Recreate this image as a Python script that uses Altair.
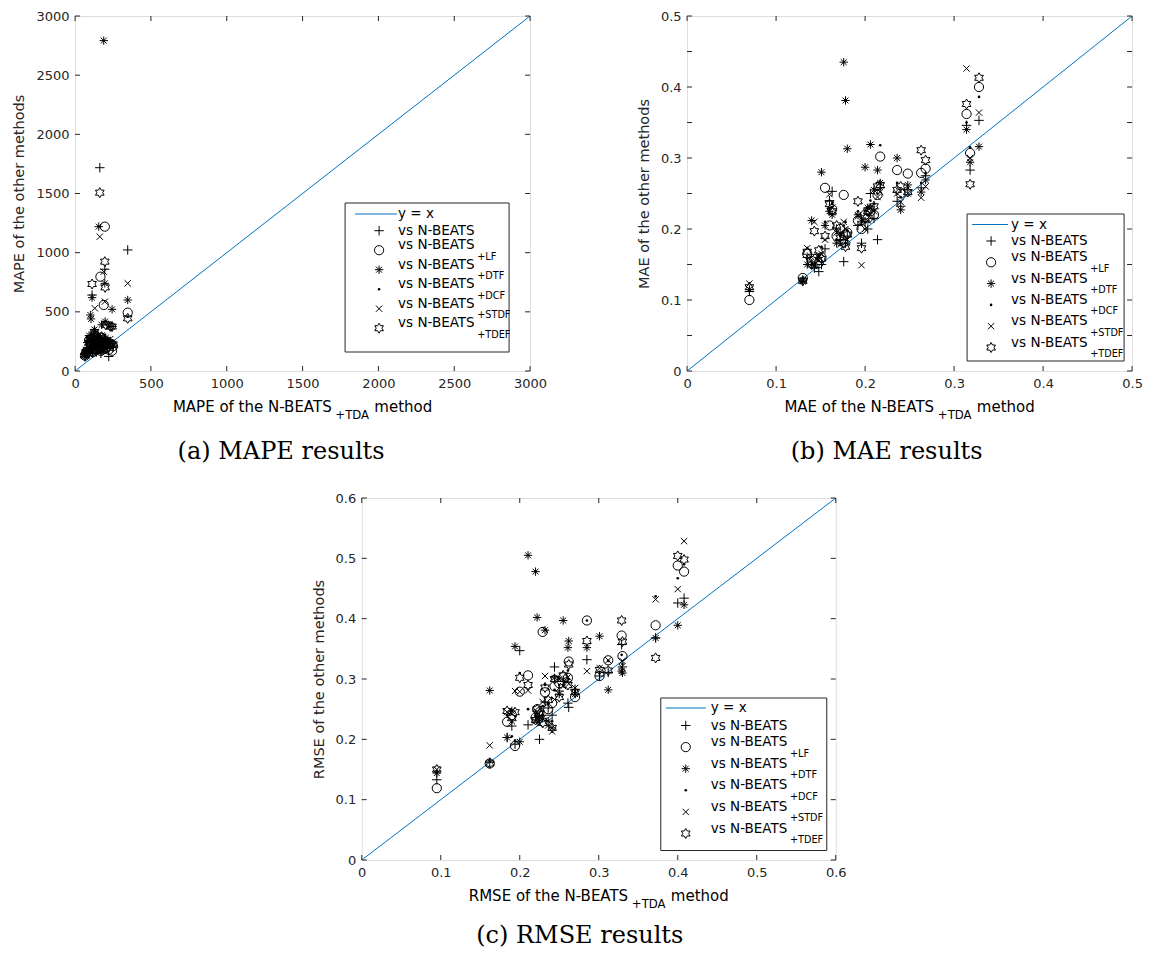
import math
import altair as alt
import pandas as pd

AXIS_COLOR = "#262626"
LINE_COLOR = "#0072BD"
SANS = "DejaVu Sans"
SERIF = "DejaVu Serif"

legend_main = "vs N-BEATS"
legend_subs = ["", "+LF", "+DTF", "+DCF", "+STDF", "+TDEF"]

# ---------------- (a) MAPE ----------------
mape_x = [65, 72, 80, 92, 101, 105, 112, 117, 122, 128, 130, 135, 140, 148, 156,
          163, 167, 170, 175, 180, 189, 196, 198, 202, 210, 222, 232, 244, 250, 347]
mape_nbeats = [120, 140, 150, 180, 200, 210, 642, 150, 210, 300, 250, 230, 160, 270, 180,
               1718, 220, 150, 260, 200, 240, 860, 250, 220, 190, 123, 250, 376, 200, 1023]
mape_lf = [130, 150, 160, 260, 230, 220, 170, 160, 200, 310, 280, 250, 180, 230, 200,
           190, 797, 170, 280, 180, 558, 1220, 220, 190, 200, 180, 230, 171, 210, 493]
mape_dtf = [150, 170, 240, 300, 473, 440, 620, 200, 250, 350, 320, 270, 220, 300, 1220,
            280, 250, 200, 390, 230, 2792, 741, 418, 280, 260, 240, 380, 521, 230, 600]
mape_dcf = [125, 145, 170, 200, 220, 230, 210, 170, 220, 280, 240, 240, 175, 250, 190,
            210, 230, 160, 270, 210, 230, 300, 240, 230, 210, 200, 260, 250, 220, 460]
mape_stdf = [135, 150, 180, 250, 260, 250, 230, 165, 230, 290, 530, 260, 190, 240, 210,
             1135, 240, 175, 300, 220, 839, 586, 400, 260, 230, 220, 270, 240, 215, 741]
mape_tdef = [130, 160, 175, 240, 270, 260, 735, 180, 240, 330, 300, 250, 170, 260, 220,
             1507, 260, 185, 290, 205, 250, 924, 707, 390, 220, 210, 376, 376, 225, 445]
mape_ticks = [0, 500, 1000, 1500, 2000, 2500, 3000]

# ---------------- (b) MAE ----------------
mae_x = [0.070, 0.130, 0.135, 0.140, 0.143, 0.148, 0.151, 0.155, 0.160, 0.163, 0.168,
         0.172, 0.176, 0.178, 0.180, 0.192, 0.196, 0.200, 0.203, 0.206, 0.210, 0.214,
         0.217, 0.236, 0.240, 0.248, 0.263, 0.268, 0.314, 0.318, 0.328]
mae_nbeats = [0.112, 0.128, 0.160, 0.150, 0.145, 0.140, 0.150, 0.172, 0.240, 0.253, 0.200,
              0.185, 0.154, 0.180, 0.190, 0.205, 0.180, 0.210, 0.200, 0.250, 0.215, 0.185,
              0.258, 0.239, 0.232, 0.255, 0.258, 0.275, 0.346, 0.283, 0.353]
mae_lf = [0.100, 0.131, 0.165, 0.155, 0.158, 0.152, 0.160, 0.258, 0.205, 0.228, 0.190,
          0.200, 0.248, 0.192, 0.195, 0.212, 0.200, 0.220, 0.215, 0.225, 0.220, 0.248,
          0.302, 0.283, 0.250, 0.278, 0.279, 0.285, 0.362, 0.307, 0.400]
mae_dtf = [0.115, 0.126, 0.150, 0.212, 0.148, 0.160, 0.280, 0.205, 0.225, 0.220, 0.180,
           0.194, 0.435, 0.381, 0.313, 0.220, 0.210, 0.287, 0.230, 0.319, 0.255, 0.283,
           0.265, 0.300, 0.227, 0.262, 0.252, 0.269, 0.340, 0.294, 0.316]
mae_dcf = [0.113, 0.130, 0.158, 0.152, 0.150, 0.155, 0.175, 0.210, 0.230, 0.236, 0.185,
           0.190, 0.205, 0.210, 0.198, 0.225, 0.215, 0.225, 0.220, 0.240, 0.235, 0.250,
           0.318, 0.265, 0.245, 0.258, 0.265, 0.278, 0.350, 0.315, 0.386]
mae_stdf = [0.123, 0.128, 0.173, 0.160, 0.210, 0.162, 0.165, 0.185, 0.249, 0.230, 0.195,
            0.178, 0.210, 0.200, 0.185, 0.218, 0.149, 0.200, 0.212, 0.230, 0.225, 0.245,
            0.252, 0.250, 0.238, 0.250, 0.244, 0.260, 0.426, 0.300, 0.364]
mae_tdef = [0.118, 0.127, 0.168, 0.150, 0.197, 0.170, 0.158, 0.190, 0.235, 0.225, 0.205,
            0.188, 0.180, 0.175, 0.192, 0.239, 0.173, 0.215, 0.225, 0.228, 0.232, 0.260,
            0.262, 0.255, 0.260, 0.252, 0.311, 0.297, 0.376, 0.263, 0.413]
mae_xticks = [0, 0.1, 0.2, 0.3, 0.4, 0.5]
mae_yticks = [0, 0.05, 0.1, 0.15, 0.2, 0.25, 0.3, 0.35, 0.4, 0.45, 0.5]

# ---------------- (c) RMSE ----------------
rmse_x = [0.095, 0.162, 0.184, 0.190, 0.194, 0.200, 0.2105, 0.220, 0.222, 0.225, 0.229,
          0.232, 0.236, 0.241, 0.244, 0.250, 0.255, 0.261, 0.262, 0.270, 0.285, 0.301,
          0.312, 0.329, 0.330, 0.372, 0.400, 0.408]
rmse_nbeats = [0.133, 0.162, 0.203, 0.222, 0.192, 0.347, 0.224, 0.236, 0.232, 0.200, 0.240,
               0.262, 0.252, 0.240, 0.320, 0.280, 0.296, 0.260, 0.253, 0.283, 0.332, 0.305,
               0.311, 0.357, 0.320, 0.368, 0.426, 0.434]
rmse_lf = [0.119, 0.160, 0.229, 0.240, 0.189, 0.279, 0.306, 0.236, 0.250, 0.245, 0.378,
           0.278, 0.250, 0.260, 0.288, 0.293, 0.303, 0.302, 0.329, 0.270, 0.397, 0.305,
           0.331, 0.372, 0.338, 0.389, 0.488, 0.478]
rmse_dtf = [0.144, 0.281, 0.203, 0.247, 0.354, 0.196, 0.505, 0.478, 0.402, 0.238, 0.235,
            0.381, 0.230, 0.219, 0.302, 0.275, 0.397, 0.352, 0.363, 0.275, 0.352, 0.371,
            0.282, 0.313, 0.310, 0.368, 0.389, 0.423]
rmse_dcf = [0.147, 0.163, 0.240, 0.205, 0.198, 0.310, 0.250, 0.240, 0.235, 0.228, 0.255,
            0.290, 0.260, 0.230, 0.282, 0.290, 0.290, 0.314, 0.300, 0.280, 0.397, 0.312,
            0.330, 0.340, 0.325, 0.437, 0.467, 0.490]
rmse_stdf = [0.150, 0.190, 0.245, 0.230, 0.280, 0.279, 0.281, 0.230, 0.245, 0.226, 0.262,
             0.305, 0.223, 0.213, 0.266, 0.300, 0.288, 0.303, 0.292, 0.285, 0.313, 0.318,
             0.331, 0.320, 0.330, 0.432, 0.449, 0.5285]
rmse_tdef = [0.150, 0.160, 0.247, 0.235, 0.245, 0.302, 0.290, 0.232, 0.250, 0.243, 0.227,
             0.286, 0.265, 0.219, 0.300, 0.270, 0.306, 0.290, 0.324, 0.278, 0.363, 0.315,
             0.314, 0.397, 0.362, 0.335, 0.504, 0.498]
rmse_ticks = [0, 0.1, 0.2, 0.3, 0.4, 0.5, 0.6]

# ---------------- styling helpers ----------------
DEJAVU_W = {"M": .863, "A": .684, "P": .603, "E": .632, " ": .318, "o": .612, "f": .352,
            "t": .392, "h": .634, "e": .615, "N": .748, "-": .361, "B": .686, "T": .611,
            "S": .635, "R": .695, "m": .974, "d": .635, "+": .838, "D": .770, "v": .592,
            "s": .521, "L": .557, "F": .575, "C": .698}


def text_w(s, fs):
    return sum(DEJAVU_W.get(c, .6) for c in s) * fs


def hexagram_path():
    pts = []
    for k in range(12):
        ang = math.radians(-90 + 30 * k)
        r = 1.0 if k % 2 == 0 else 0.5774
        pts.append((r * math.cos(ang), r * math.sin(ang)))
    return "M" + "L".join(f"{x:.3f},{y:.3f}" for x, y in pts) + "Z"


MARKERS = [
    dict(shape="M-1,0L1,0M0,-1L0,1", size=90, filled=False),
    dict(shape="circle", size=85, filled=False),
    dict(shape="M-1,0L1,0M0,-1L0,1M-0.7,-0.7L0.7,0.7M-0.7,0.7L0.7,-0.7", size=70, filled=False),
    dict(shape="circle", size=7, filled=True),
    dict(shape="M-0.7,-0.7L0.7,0.7M-0.7,0.7L0.7,-0.7", size=81, filled=False),
    dict(shape=hexagram_path(), size=100, filled=False),
]

ONE = pd.DataFrame({"k": [0]})


def txt(x, y, s, fs, align="left", baseline="middle", font=SANS):
    return alt.Chart(ONE).mark_text(text=s, font=font, fontSize=fs, align=align,
                                    baseline=baseline, color="black").encode(
        x=alt.value(x), y=alt.value(y))


def panel(xs, ys, xmax, xticks, yticks, fmt, W, H, metric, caption, cap_dx, cap_dy, leg,
          right_pad=0):
    rows = []
    for si, yv in enumerate(ys):
        for a, b in zip(xs, yv):
            rows.append({"x": a, "y": b, "s": si})
    df = pd.DataFrame(rows)
    xsc = alt.Scale(domain=[0, xmax], nice=False, zero=False)
    ysc = alt.Scale(domain=[0, xmax], nice=False, zero=False)
    xax = alt.Axis(values=xticks, format=fmt, ticks=False, domain=False, grid=False,
                   labelFont=SANS, labelFontSize=13, labelColor=AXIS_COLOR, labelPadding=6,
                   labelFlush=False, labelOverlap=False, title=None)
    yax = alt.Axis(values=yticks, format=fmt, ticks=False, domain=False, grid=False,
                   labelFont=SANS, labelFontSize=13, labelColor=AXIS_COLOR, labelPadding=6,
                   labelOverlap=False, title=f"{metric} of the other methods",
                   titleFont=SANS, titleFontSize=14.5, titleFontWeight="normal",
                   titleColor=AXIS_COLOR, titlePadding=9)
    layers = []
    ldf = pd.DataFrame({"x": [0, xmax], "y": [0, xmax]})
    layers.append(alt.Chart(ldf).mark_line(color=LINE_COLOR, strokeWidth=1, clip=True).encode(
        x=alt.X("x:Q", scale=xsc, axis=xax), y=alt.Y("y:Q", scale=ysc, axis=yax)))
    tx = pd.DataFrame({"x": xticks})
    ty = pd.DataFrame({"y": yticks})
    layers.append(alt.Chart(tx).mark_rule(color=AXIS_COLOR, strokeWidth=1).encode(
        x="x:Q", y=alt.value(H), y2=alt.value(H - 5)))
    layers.append(alt.Chart(tx).mark_rule(color=AXIS_COLOR, strokeWidth=1).encode(
        x="x:Q", y=alt.value(0), y2=alt.value(5)))
    layers.append(alt.Chart(ty).mark_rule(color=AXIS_COLOR, strokeWidth=1).encode(
        y="y:Q", x=alt.value(0), x2=alt.value(5)))
    layers.append(alt.Chart(ty).mark_rule(color=AXIS_COLOR, strokeWidth=1).encode(
        y="y:Q", x=alt.value(W), x2=alt.value(W - 5)))
    for si, mk in enumerate(MARKERS):
        sub = df[df.s == si]
        layers.append(alt.Chart(sub).mark_point(
            shape=mk["shape"], size=mk["size"], filled=mk["filled"], color="black",
            opacity=1, strokeWidth=1).encode(x="x:Q", y="y:Q"))
    # legend
    bx0, by0, bx1, by1 = leg["box"]
    layers.append(alt.Chart(ONE).mark_rect(fill="white", stroke=AXIS_COLOR, strokeWidth=1).encode(
        x=alt.value(bx0), x2=alt.value(bx1), y=alt.value(by0), y2=alt.value(by1)))
    layers.append(alt.Chart(ONE).mark_rule(color=LINE_COLOR, strokeWidth=1).encode(
        x=alt.value(leg["lx0"]), x2=alt.value(leg["lx1"]), y=alt.value(leg["ly"])))
    layers.append(txt(leg["tx"], leg["ly"], "y = x", 13.5))
    mw = text_w(legend_main, 13.5)
    for k, mk in enumerate(MARKERS):
        sy = leg["sy0"] + k * leg["dy"]
        layers.append(alt.Chart(ONE).mark_point(
            shape=mk["shape"], size=mk["size"], filled=mk["filled"], color="black",
            opacity=1, strokeWidth=1).encode(x=alt.value(leg["sx"]), y=alt.value(sy)))
        if k == 0:
            layers.append(txt(leg["tx"], sy, legend_main, 13.5))
        else:
            layers.append(txt(leg["tx"], sy - 5, legend_main, 13.5))
            layers.append(txt(leg["tx"] + mw + 1, sy + 6.5, legend_subs[k], 9.7))
    # x-axis title with subscript
    main = f"{metric} of the N-BEATS"
    mwid = text_w(main, 15)
    swid = text_w("+TDA", 11.7)
    methw = text_w("method", 15)
    total = mwid + 2 + swid + 5 + methw
    start = W / 2 - total / 2
    layers.append(txt(start, H + 41, main, 15, baseline="alphabetic"))
    layers.append(txt(start + mwid + 2, H + 47.5, "+TDA", 11.7, baseline="alphabetic"))
    layers.append(txt(start + mwid + 2 + swid + 5, H + 41, "method", 15, baseline="alphabetic"))
    # caption
    layers.append(txt(W / 2 + cap_dx, H + cap_dy, caption, 24, align="center",
                      baseline="alphabetic", font=SERIF))
    if right_pad:
        # invisible spacer that only widens the panel's bounds (for centring)
        layers.append(alt.Chart(ONE).mark_rule(strokeOpacity=0).encode(
            x=alt.value(W), x2=alt.value(W + right_pad), y=alt.value(H / 2)))
    return alt.layer(*layers).properties(width=W, height=H)


pa = panel(mape_x, [mape_nbeats, mape_lf, mape_dtf, mape_dcf, mape_stdf, mape_tdef],
           3000, mape_ticks, mape_ticks, "d", 455, 355, "MAPE", "(a) MAPE results", -21.5, 88,
           dict(box=(270, 187, 434, 336), lx0=280, lx1=322, ly=198, tx=323, sx=304,
                sy0=214.7, dy=19.5))
pb = panel(mae_x, [mae_nbeats, mae_lf, mae_dtf, mae_dcf, mae_stdf, mae_tdef],
           0.5, mae_xticks, mae_yticks, "~g", 445, 355, "MAE", "(b) MAE results", -23, 88,
           dict(box=(280, 198, 437, 345), lx0=285, lx1=321, ly=208.5, tx=324, sx=304,
                sy0=225, dy=21.3))
pc = panel(rmse_x, [rmse_nbeats, rmse_lf, rmse_dtf, rmse_dcf, rmse_stdf, rmse_tdef],
           0.6, rmse_ticks, rmse_ticks, "~g", 474, 362, "RMSE", "(c) RMSE results", -19, 83,
           dict(box=(299, 200, 465, 352.5), lx0=304, lx1=344, ly=210, tx=349, sx=324,
                sy0=227.5, dy=21.6),
           right_pad=20)

top = alt.hconcat(pa, pb, spacing=87)
chart = alt.vconcat(top, pc, spacing=26, center=True).properties(
    padding={"left": 3, "top": 1, "right": 0, "bottom": 0}
).configure_view(stroke=AXIS_COLOR, strokeWidth=1).configure(background="white")

chart.save("out.html", embed_options={"renderer": "svg", "actions": False})
